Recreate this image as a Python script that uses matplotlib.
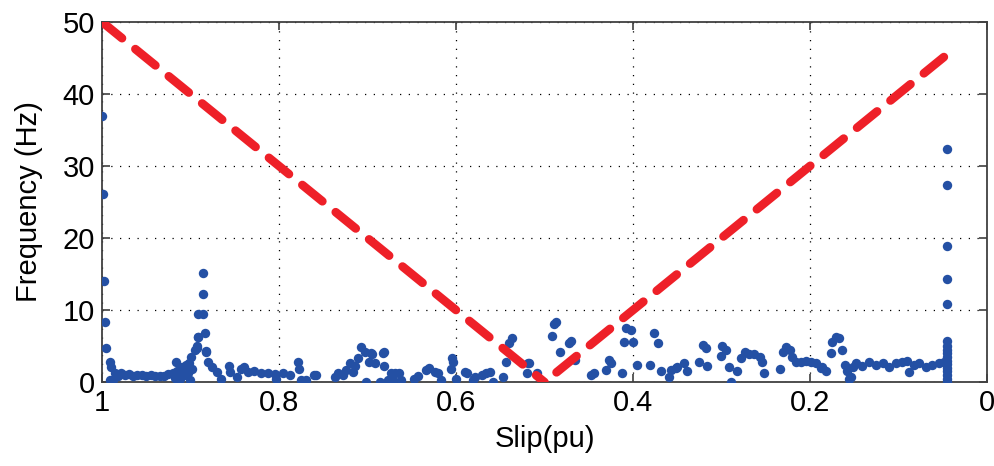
import numpy as np
import matplotlib
matplotlib.use("Agg")
import matplotlib.pyplot as plt

# Theoretical line (Hz vs slip), two branches
left_slip = [1.0, 0.5]
left_freq = [50.0, 0.0]
right_slip = [0.5, 0.045]
right_freq = [0.0, 45.5]

# Measured points: slip (pu), frequency (Hz)
slip = [
    1.0, 0.999, 0.998, 0.997, 0.995, 0.991, 0.990, 0.991,
    0.988, 0.985, 0.982, 0.978, 0.974, 0.970, 0.965, 0.960, 0.955, 0.950,
    0.945, 0.940, 0.935, 0.930, 0.925, 0.920, 0.918, 0.916, 0.915, 0.912,
    0.910, 0.907, 0.905, 0.903, 0.900, 0.898,
    0.902, 0.899, 0.895, 0.893, 0.893, 0.891, 0.892, 0.892, 0.886, 0.886,
    0.886, 0.884, 0.883, 0.882, 0.880, 0.876, 0.870, 0.865, 0.857, 0.855,
    0.847, 0.843,
    0.840, 0.835, 0.828, 0.820, 0.812, 0.805, 0.803, 0.795, 0.788, 0.778,
    0.777, 0.775, 0.769, 0.760, 0.758, 0.737, 0.733, 0.728, 0.724, 0.720,
    0.716, 0.714, 0.711, 0.707, 0.703, 0.702, 0.698, 0.696, 0.695, 0.692,
    0.686, 0.682, 0.681, 0.681, 0.677,
    0.673, 0.671, 0.669, 0.664, 0.662, 0.647, 0.643, 0.634, 0.630, 0.624,
    0.620, 0.617, 0.605, 0.603, 0.606, 0.600, 0.590, 0.588, 0.581, 0.579,
    0.571, 0.566, 0.562, 0.558, 0.547, 0.543, 0.540, 0.537, 0.520, 0.519,
    0.517, 0.509, 0.489, 0.487, 0.491, 0.483, 0.472, 0.470, 0.466, 0.447,
    0.444, 0.430, 0.427, 0.425, 0.413, 0.408, 0.402, 0.410, 0.400, 0.396,
    0.381, 0.376, 0.372, 0.368, 0.359, 0.357, 0.351,
    0.350, 0.342, 0.339, 0.325, 0.321, 0.318, 0.316, 0.301, 0.299, 0.295,
    0.292, 0.289, 0.282, 0.278, 0.274, 0.269, 0.263, 0.257, 0.254, 0.252,
    0.234, 0.231, 0.227, 0.223, 0.220, 0.216, 0.210, 0.205, 0.199, 0.193,
    0.188, 0.186, 0.182, 0.176, 0.175, 0.171, 0.167, 0.164, 0.161, 0.158,
    0.156, 0.154, 0.152, 0.148, 0.141, 0.133, 0.126, 0.118, 0.111, 0.103,
    0.096, 0.090, 0.088, 0.083, 0.077, 0.069, 0.062, 0.054, 0.049,
    0.045, 0.045, 0.045, 0.045, 0.045, 0.045, 0.045, 0.045, 0.045, 0.045,
    0.045, 0.045, 0.045, 0.045, 0.045, 0.045, 0.045,
]
freq = [
    37.0, 26.1, 14.1, 8.3, 4.7, 2.8, 2.1, 0.3,
    0.3, 1.2, 0.8, 1.3, 1.0, 1.1, 0.9, 1.0, 1.0, 0.9,
    1.0, 0.9, 0.8, 0.9, 1.1, 1.3, 0.6, 2.8, 1.5, 0.4,
    2.1, 1.0, 2.4, 1.2, 0.3, 1.8,
    2.6, 3.5, 4.4, 5.0, 4.7, 6.3, 9.5, 6.3, 15.1, 12.2,
    9.5, 6.8, 4.3, 4.2, 2.8, 2.1, 1.4, 0.5, 2.3, 1.4,
    0.7, 1.8,
    2.1, 1.4, 1.6, 1.2, 1.3, 1.1, 0.5, 1.2, 1.0, 2.8,
    1.8, 0.3, 0.3, 1.0, 1.0, 0.7, 1.2, 1.0, 1.7, 2.6,
    1.4, 2.3, 3.3, 4.9, 4.2, 0.0, 2.8, 4.0, 3.9, 2.6,
    0.0, 4.0, 2.3, 4.2, 0.3,
    1.2, 0.3, 1.2, 1.2, 0.3, 0.5, 0.9, 1.7, 1.9, 1.4,
    1.2, 0.3, 3.3, 2.8, 1.8, 0.5, 1.4, 1.2, 0.3, 0.7,
    1.0, 1.2, 1.4, 0.0, 0.7, 2.8, 5.4, 6.1, 1.2, 2.6,
    2.6, 1.2, 8.1, 8.3, 6.4, 4.2, 5.4, 5.7, 3.1, 1.0,
    1.3, 1.7, 3.1, 2.6, 1.3, 7.5, 7.2, 5.6, 5.5, 2.4,
    2.4, 6.8, 5.4, 1.6, 0.7, 1.7, 2.0,
    2.1, 2.6, 1.6, 2.8, 5.1, 4.8, 2.3, 3.6, 5.0, 4.4,
    2.1, 0.0, 1.5, 3.3, 4.2, 3.9, 3.9, 3.5, 2.8, 1.2,
    1.8, 4.2, 4.9, 4.4, 3.5, 2.8, 2.8, 3.0, 2.8, 2.6,
    1.9, 2.1, 1.6, 4.0, 5.6, 6.3, 6.1, 4.5, 2.4, 1.6,
    0.5, 0.7, 2.1, 2.6, 2.3, 2.8, 2.4, 2.6, 2.1, 2.6,
    2.8, 3.0, 1.4, 2.4, 2.6, 2.1, 2.4, 2.6, 2.8,
    32.4, 27.4, 18.9, 14.3, 10.8, 5.7, 5.0, 4.5, 4.0, 3.5,
    3.0, 2.5, 2.0, 1.5, 1.0, 0.5, 0.0,
]

plt.rcParams['font.family'] = ['Liberation Sans', 'DejaVu Sans']

fig = plt.figure(figsize=(9.95, 4.66), dpi=100)
ax = fig.add_axes([0.1025, 0.180, 0.8895, 0.773])

ax.scatter(slip, freq, s=46, color='#2450a4', zorder=3, linewidths=0)
ax.plot(left_slip, left_freq, color='#ee2028', linewidth=6.2,
        linestyle=(0, (3.0, 2.0)), dash_capstyle='round', zorder=4)
ax.plot(right_slip, right_freq, color='#ee2028', linewidth=6.2,
        linestyle=(3.2, (3.0, 2.0)), dash_capstyle='round', zorder=4)

ax.set_xlim(1, 0)
ax.set_ylim(0, 50)
ax.set_xticks([1, 0.8, 0.6, 0.4, 0.2, 0])
ax.set_xticklabels(['1', '0.8', '0.6', '0.4', '0.2', '0'])
ax.set_yticks([0, 10, 20, 30, 40, 50])

ax.grid(True, color='black', linestyle=(0, (1, 6)), linewidth=0.9)
ax.tick_params(direction='in', length=6, width=1.2, labelsize=21, pad=5,
               top=True, right=True, colors='#404040', labelcolor='black')
for sp in ax.spines.values():
    sp.set_color('#404040')
    sp.set_linewidth(1.3)

ax.set_xlabel('Slip(pu)', fontsize=21, labelpad=6)
ax.set_ylabel('Frequency (Hz)', fontsize=21, labelpad=14)

fig.savefig('out.png', dpi=100)
